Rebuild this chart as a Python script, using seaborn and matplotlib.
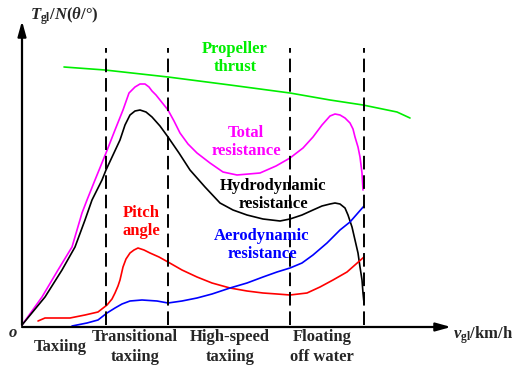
import matplotlib
matplotlib.use("Agg")
import matplotlib.pyplot as plt
import pandas as pd
import seaborn as sns

# Curve samples (speed units, value units; origin at axis corner)
thrust_x = [42, 83, 146, 208, 268, 308, 341, 375, 388]
thrust_y = [258, 255, 248, 240, 232, 225, 220, 213, 207]

total_x = [0, 20, 36, 50, 60, 65, 73, 84, 93, 101, 107, 113, 118, 123, 127, 130, 134, 138,
           146, 152, 158, 166, 175, 188, 201, 215, 238, 254, 268, 281, 291, 300, 308, 313,
           318, 323, 328, 331, 333, 336, 338, 340, 341]
total_y = [0, 28, 55, 78, 112, 125, 145, 172, 195, 215, 232, 238, 241, 241, 238, 234, 230, 225,
           215, 204, 192, 181, 172, 162, 153, 150, 152, 159, 167, 177, 188, 200, 209, 211,
           210, 207, 202, 196, 188, 178, 168, 152, 135]

hydro_x = [0, 23, 40, 53, 63, 70, 80, 84, 91, 98, 103, 108, 113, 118, 124, 130, 138, 146,
           157, 168, 183, 198, 211, 225, 241, 258, 268, 280, 291, 300, 308, 313, 318, 323,
           326, 330, 333, 336, 338, 340, 341, 342]
hydro_y = [0, 28, 55, 78, 105, 125, 145, 155, 170, 185, 200, 210, 214, 215, 213, 208, 199, 188,
           172, 155, 138, 122, 115, 110, 106, 104, 106, 110, 115, 119, 121, 122, 121, 117,
           110, 98, 85, 72, 58, 45, 32, 22]

pitch_x = [16, 23, 48, 63, 76, 85, 90, 93, 96, 98, 101, 104, 108, 112, 116, 122, 128, 137,
           146, 160, 175, 190, 208, 225, 241, 255, 268, 285, 298, 311, 325, 342]
pitch_y = [4, 7, 7, 10, 13, 20, 26, 32, 39, 45, 58, 66, 72, 75, 77, 75, 72, 68,
           63, 55, 48, 42, 37, 34, 32, 31, 30, 32, 38, 45, 53, 68]

aero_x = [50, 65, 76, 85, 93, 100, 108, 120, 135, 146, 160, 175, 190, 208, 225, 241,
          255, 268, 280, 291, 305, 318, 328, 342]
aero_y = [-1, 2, 5, 12, 17, 21, 24, 25, 24, 22, 24, 27, 31, 37, 42, 48,
          53, 57, 62, 70, 82, 95, 103, 119]

# stage boundaries and stage names
stage_bounds = [84, 146, 268, 342]
stage_names = ["Taxiing", "Transitional\ntaxiing", "High-speed\ntaxiing", "Floating\noff water"]
stage_centers = [38, 113, 208, 300]

sns.set_style("white")
plt.rcParams['font.family'] = ['Liberation Serif', 'DejaVu Serif']
plt.rcParams['font.weight'] = 'bold'
plt.rcParams['mathtext.fontset'] = 'custom'
plt.rcParams['mathtext.rm'] = 'Liberation Serif:bold'
plt.rcParams['mathtext.it'] = 'Liberation Serif:italic:bold'
plt.rcParams['mathtext.bf'] = 'Liberation Serif:bold'

fig = plt.figure(figsize=(5.13, 3.65), dpi=100)
ax = fig.add_axes([0, 0, 1, 1])
ax.set_xlim(-22, 491)
ax.set_ylim(-40, 325)
ax.set_axis_off()

curves = [
    (thrust_x, thrust_y, "#00ee00"),
    (total_x, total_y, "#ff00ff"),
    (hydro_x, hydro_y, "black"),
    (pitch_x, pitch_y, "#ff0000"),
    (aero_x, aero_y, "#0000ff"),
]
for xs, ys, col in curves:
    df = pd.DataFrame({"v": xs, "val": ys})
    sns.lineplot(data=df, x="v", y="val", sort=False, color=col, lw=1.2, ax=ax)

# dashed stage boundaries
for b in stage_bounds:
    ax.plot([b, b], [0, 277], color="black", lw=1.4, ls=(0, (7, 3)))

# axes with arrows
arrow = dict(arrowstyle="-|>,head_length=0.9,head_width=0.25", color="black", lw=1.6,
             shrinkA=0, shrinkB=0)
ax.annotate("", xy=(0, 304), xytext=(0, 0), arrowprops=arrow)
ax.annotate("", xy=(429, -2), xytext=(0, -2), arrowprops=arrow)

fs = 12
ax.text(8, 309, r"$T_{\mathrm{gl}}/N(\theta/°)$", fontsize=fs, ha="left", va="center")
ax.text(431, -10, r"$v_{\mathrm{gl}}\mathrm{/km/h}$", fontsize=fs, ha="left", va="center")
ax.text(-9, -8, "o", fontsize=fs, style="italic", ha="center", va="center")

for name, cx in zip(stage_names, stage_centers):
    ax.text(cx, -22, name, fontsize=fs, ha="center", va="center", linespacing=1.3)

labels = [
    ("Propeller\nthrust", 213, 267, "#00ee00"),
    ("Total\nresistance", 224, 183, "#ff00ff"),
    ("Hydrodynamic\nresistance", 251, 130, "black"),
    ("Pitch\nangle", 119, 103, "#ff0000"),
    ("Aerodynamic\nresistance", 240, 80, "#0000ff"),
]
for txt, x, y, col in labels:
    ax.text(x, y, txt, fontsize=fs, color=col, ha="center", va="center", linespacing=1.2)

fig.savefig("out.png", dpi=100)
